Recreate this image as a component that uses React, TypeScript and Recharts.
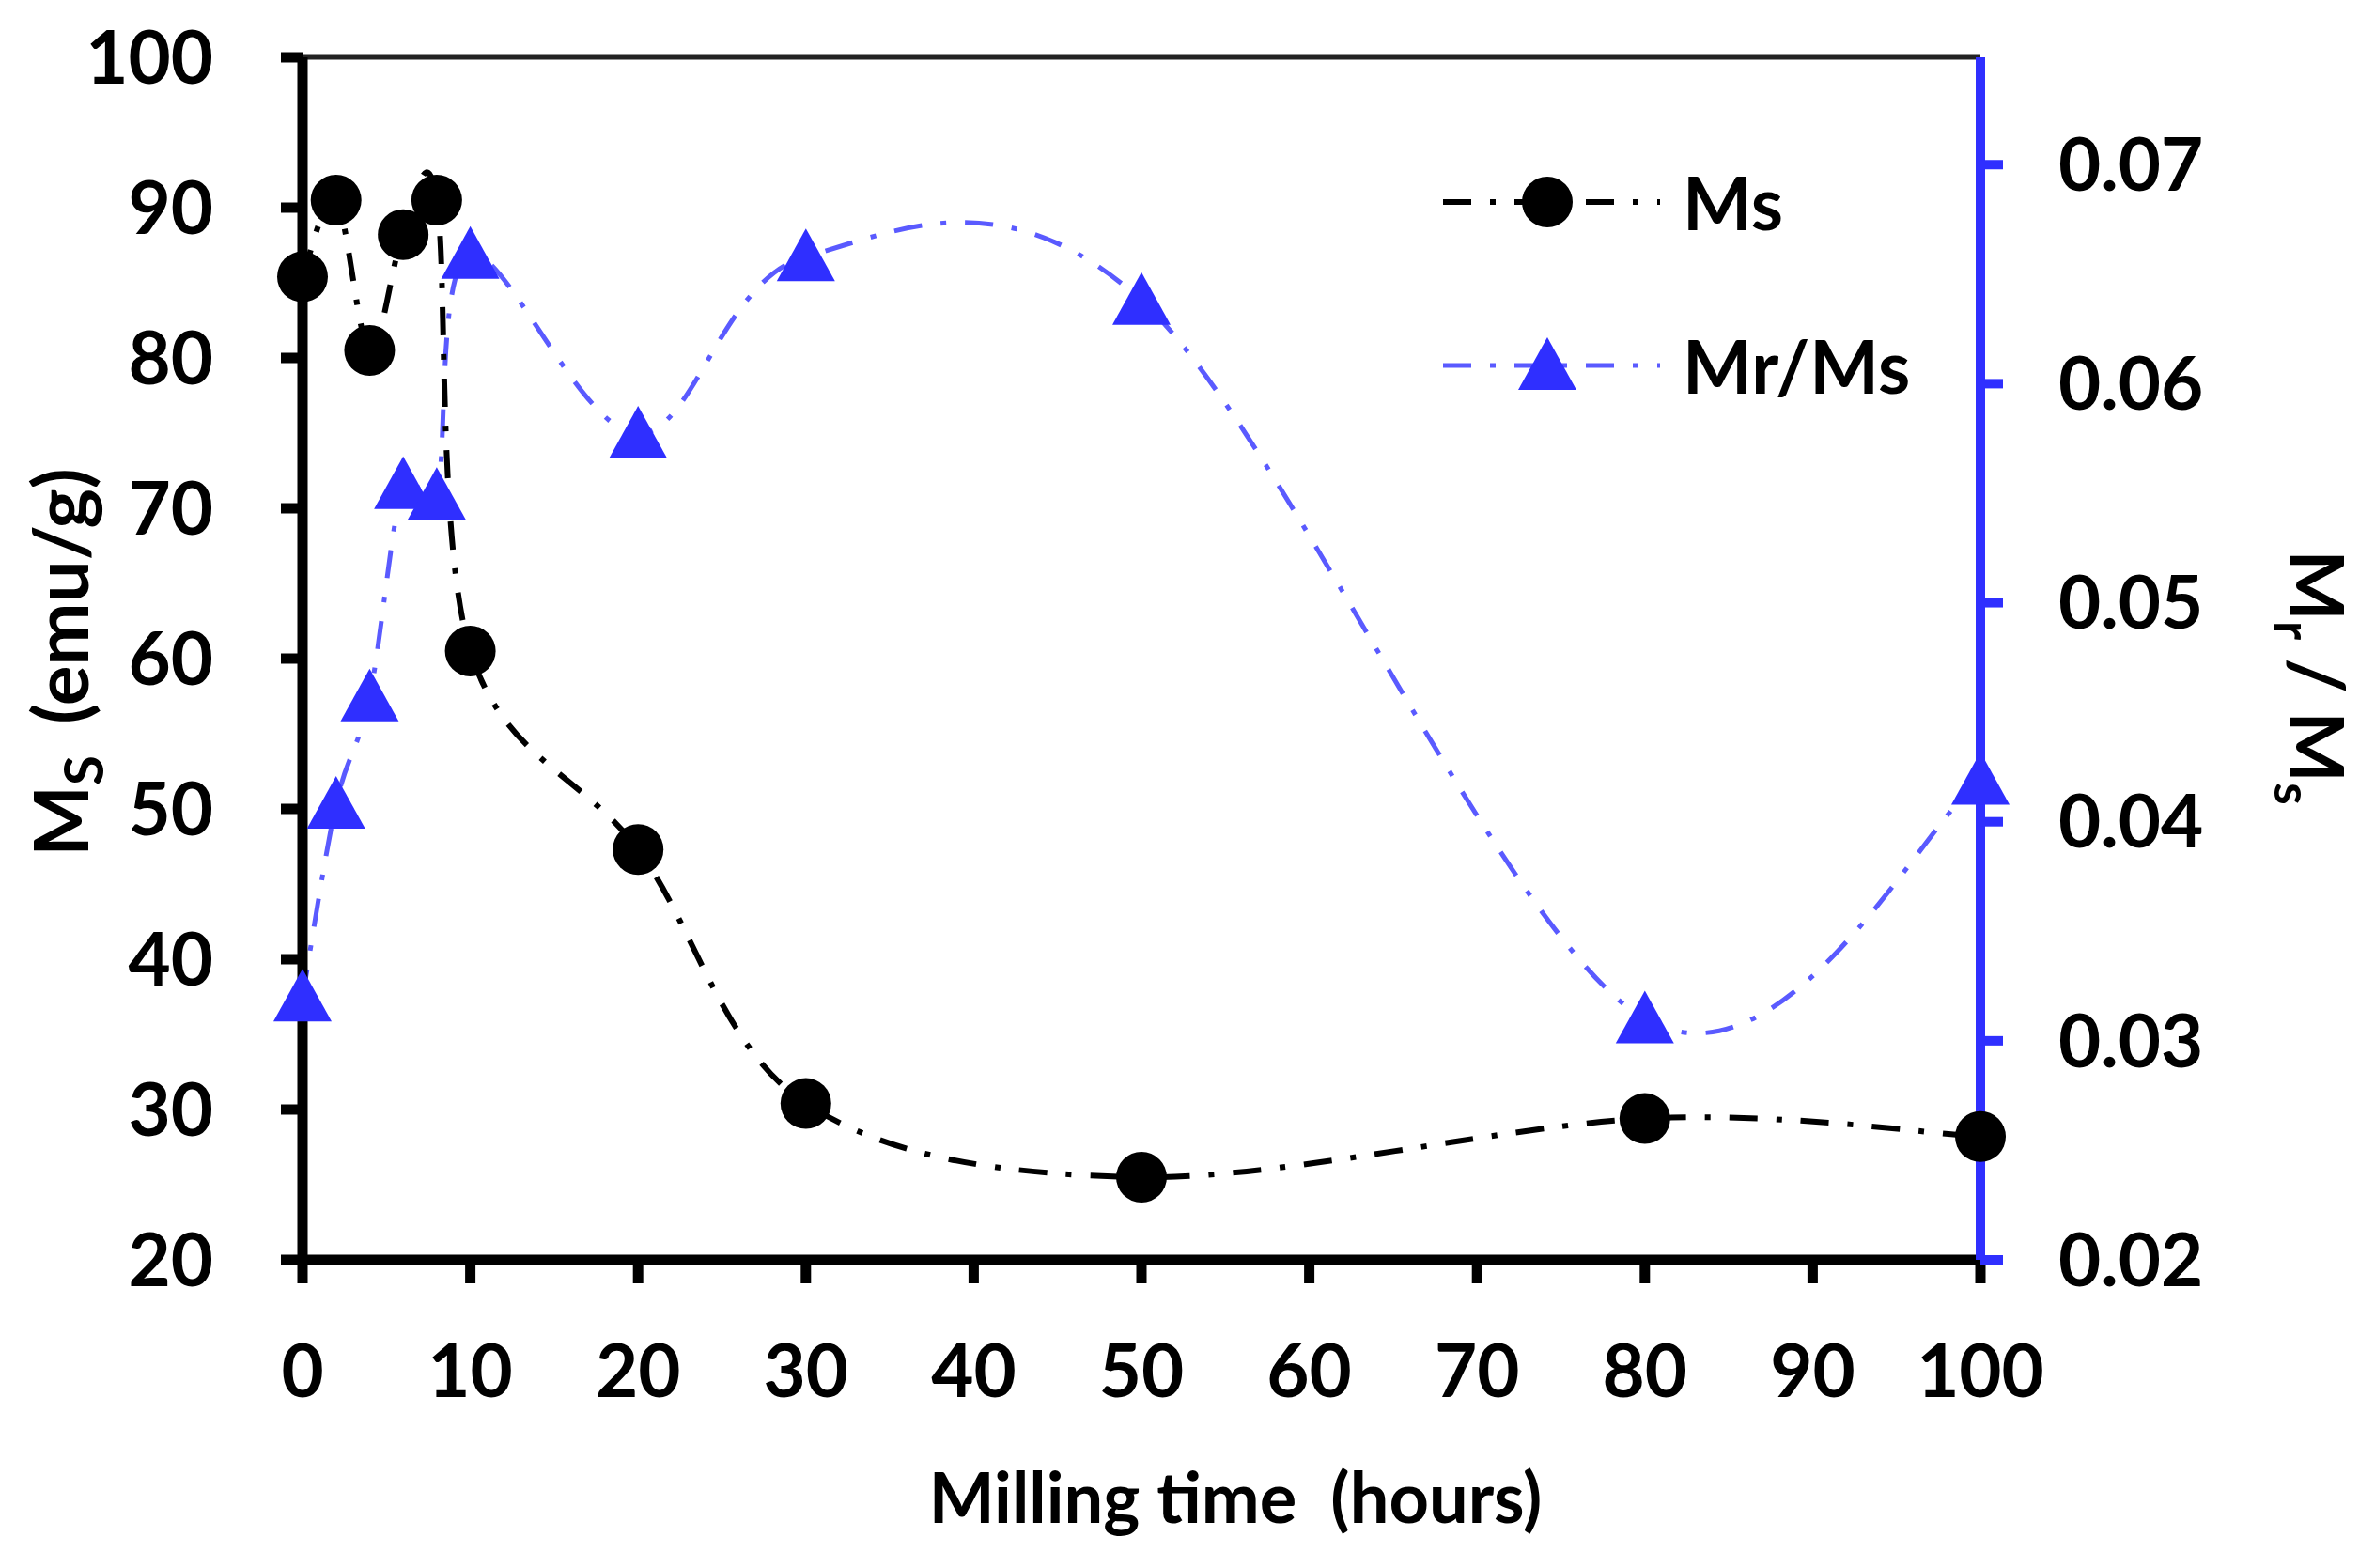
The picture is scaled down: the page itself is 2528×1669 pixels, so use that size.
import React from 'react';
import { LineChart, Line, XAxis, YAxis, Legend, Label, ReferenceLine } from 'recharts';

// Values
const millingTime = [0, 2, 4, 6, 8, 10, 20, 30, 50, 80, 100];
const msValues = [85.4, 90.5, 80.5, 88.2, 90.5, 60.5, 47.3, 30.4, 25.5, 29.4, 28.2];
const mrMsValues = [0.032, 0.0408, 0.0457, 0.0554, 0.0549, 0.0659, 0.0577, 0.0658, 0.0638, 0.031, 0.0419];

const xTicks = [0, 10, 20, 30, 40, 50, 60, 70, 80, 90, 100];
const leftTicks = [20, 30, 40, 50, 60, 70, 80, 90, 100];
const rightTicks = [0.02, 0.03, 0.04, 0.05, 0.06, 0.07];

const data = millingTime.map((t, i) => ({ t, ms: msValues[i], ratio: mrMsValues[i] }));

const FONT = "Lato, 'Open Sans', sans-serif";
const BLUE = '#2f2fff';
const BLUE_LINE = '#5a5aff';
const DASH = '30 20 6 20';

// Excel-style smoothed line (uniform Catmull-Rom as cubic beziers)
function excelSmooth(context: any) {
    let pts: number[][] = [];
    return {
        areaStart() {},
        areaEnd() {},
        lineStart() {
            pts = [];
        },
        point(x: number, y: number) {
            pts.push([+x, +y]);
        },
        lineEnd() {
            const n = pts.length;
            if (!n) return;
            context.moveTo(pts[0][0], pts[0][1]);
            for (let i = 0; i < n - 1; i++) {
                const p0 = pts[Math.max(i - 1, 0)];
                const p1 = pts[i];
                const p2 = pts[i + 1];
                const p3 = pts[Math.min(i + 2, n - 1)];
                context.bezierCurveTo(
                    p1[0] + (p2[0] - p0[0]) / 6,
                    p1[1] + (p2[1] - p0[1]) / 6,
                    p2[0] - (p3[0] - p1[0]) / 6,
                    p2[1] - (p3[1] - p1[1]) / 6,
                    p2[0],
                    p2[1]
                );
            }
        },
    };
}

function circleDot(props: any) {
    const { cx, cy, index } = props;
    return <circle key={`c-${index}`} cx={cx} cy={cy} r={27} fill="#000" />;
}

function triangleDot(props: any) {
    const { cx, cy, index } = props;
    return (
        <polygon
            key={`t-${index}`}
            points={`${cx},${cy - 30} ${cx - 31},${cy + 26} ${cx + 31},${cy + 26}`}
            fill={BLUE}
        />
    );
}

function LegendBox() {
    const rows = [
        { name: 'Ms', color: '#000', width: 6, marker: 'circle' },
        { name: 'Mr/Ms', color: BLUE_LINE, width: 5, marker: 'triangle' },
    ];
    return (
        <div style={{ fontFamily: FONT, fontWeight: 700, fontSize: 78, color: '#000' }}>
            {rows.map((r) => (
                <div key={r.name} style={{ display: 'flex', alignItems: 'center', height: 174 }}>
                    <svg width={231} height={174}>
                        <line x1={0} y1={87} x2={231} y2={87} stroke={r.color} strokeWidth={r.width} strokeDasharray={DASH} />
                        {r.marker === 'circle' ? (
                            <circle cx={111} cy={87} r={27} fill="#000" />
                        ) : (
                            <polygon points="111,57 80,113 142,113" fill={BLUE} />
                        )}
                    </svg>
                    <span style={{ marginLeft: 24, lineHeight: '174px' }}>{r.name}</span>
                </div>
            ))}
        </div>
    );
}

const tickStyle = { fontFamily: FONT, fontWeight: 700, fontSize: 78, fill: '#000' };

export default function App() {
    return (
        <div style={{ position: 'absolute', left: 0, top: 0, width: 2520, height: 1660, background: '#fff' }}>
            <LineChart
                width={2520}
                height={1660}
                data={data}
                margin={{ top: 61, right: 12, left: 22, bottom: 19 }}
            >
                <XAxis
                    dataKey="t"
                    type="number"
                    domain={[0, 100]}
                    ticks={xTicks}
                    interval={0}
                    height={300}
                    tickSize={25}
                    tickMargin={66}
                    axisLine={{ stroke: '#000', strokeWidth: 11 }}
                    tickLine={{ stroke: '#000', strokeWidth: 11 }}
                    tick={tickStyle}
                >
                    <Label
                        content={(p: any) => {
                            const vb = p.viewBox;
                            return (
                                <text
                                    x={vb.x + vb.width / 2 + 100}
                                    y={vb.y + 280}
                                    textAnchor="middle"
                                    fontFamily={FONT}
                                    fontWeight={700}
                                    fontSize={74}
                                    fill="#000"
                                >
                                    Milling time{'\u00a0\u00a0'}(hours)
                                </text>
                            );
                        }}
                    />
                </XAxis>
                <YAxis
                    yAxisId="left"
                    type="number"
                    domain={[20, 100]}
                    ticks={leftTicks}
                    interval={0}
                    width={300}
                    tickSize={23}
                    tickMargin={72}
                    axisLine={{ stroke: '#000', strokeWidth: 11 }}
                    tickLine={{ stroke: '#000', strokeWidth: 11 }}
                    tick={tickStyle}
                >
                    <Label
                        content={(p: any) => {
                            const vb = p.viewBox;
                            const x = vb.x + 72;
                            const y = 705;
                            return (
                                <text
                                    x={x}
                                    y={y}
                                    transform={`rotate(-90, ${x}, ${y})`}
                                    textAnchor="middle"
                                    fontFamily={FONT}
                                    fontWeight={700}
                                    fontSize={80}
                                    fill="#000"
                                >
                                    M<tspan dy={16} fontSize={58}>S</tspan>
                                    <tspan dy={-16} dx={14}>{'\u00a0(emu/g)'}</tspan>
                                </text>
                            );
                        }}
                    />
                </YAxis>
                <YAxis
                    yAxisId="right"
                    orientation="right"
                    type="number"
                    domain={[0.02, 0.0749]}
                    ticks={rightTicks}
                    interval={0}
                    width={400}
                    tickSize={24}
                    tickMargin={59}
                    tickFormatter={(v: number) => v.toFixed(2)}
                    axisLine={{ stroke: BLUE, strokeWidth: 10 }}
                    tickLine={{ stroke: BLUE, strokeWidth: 10 }}
                    tick={tickStyle}
                >
                    <Label
                        content={(p: any) => {
                            const vb = p.viewBox;
                            const x = vb.x + 329;
                            const y = 721;
                            return (
                                <text
                                    x={x}
                                    y={y}
                                    transform={`rotate(90, ${x}, ${y})`}
                                    textAnchor="middle"
                                    fontFamily={FONT}
                                    fontWeight={700}
                                    fontSize={80}
                                    fill="#000"
                                >
                                    M<tspan dy={16} fontSize={54}>r</tspan>
                                    <tspan dy={-16}>{'\u00a0/\u00a0'}M</tspan>
                                    <tspan dy={16} fontSize={54}>s</tspan>
                                </text>
                            );
                        }}
                    />
                </YAxis>
                <ReferenceLine yAxisId="left" y={100} stroke="#222" strokeWidth={5} />
                <Legend
                    layout="vertical"
                    align="center"
                    verticalAlign="middle"
                    wrapperStyle={{ left: 1536, top: 128, width: 600 }}
                    content={() => <LegendBox />}
                />
                <Line
                    yAxisId="right"
                    dataKey="ratio"
                    name="Mr/Ms"
                    type={excelSmooth as any}
                    stroke={BLUE_LINE}
                    strokeWidth={5}
                    strokeDasharray={DASH}
                    dot={triangleDot}
                    activeDot={false}
                    isAnimationActive={false}
                />
                <Line
                    yAxisId="left"
                    dataKey="ms"
                    name="Ms"
                    type={excelSmooth as any}
                    stroke="#000"
                    strokeWidth={6}
                    strokeDasharray={DASH}
                    dot={circleDot}
                    activeDot={false}
                    isAnimationActive={false}
                />
            </LineChart>
        </div>
    );
}
